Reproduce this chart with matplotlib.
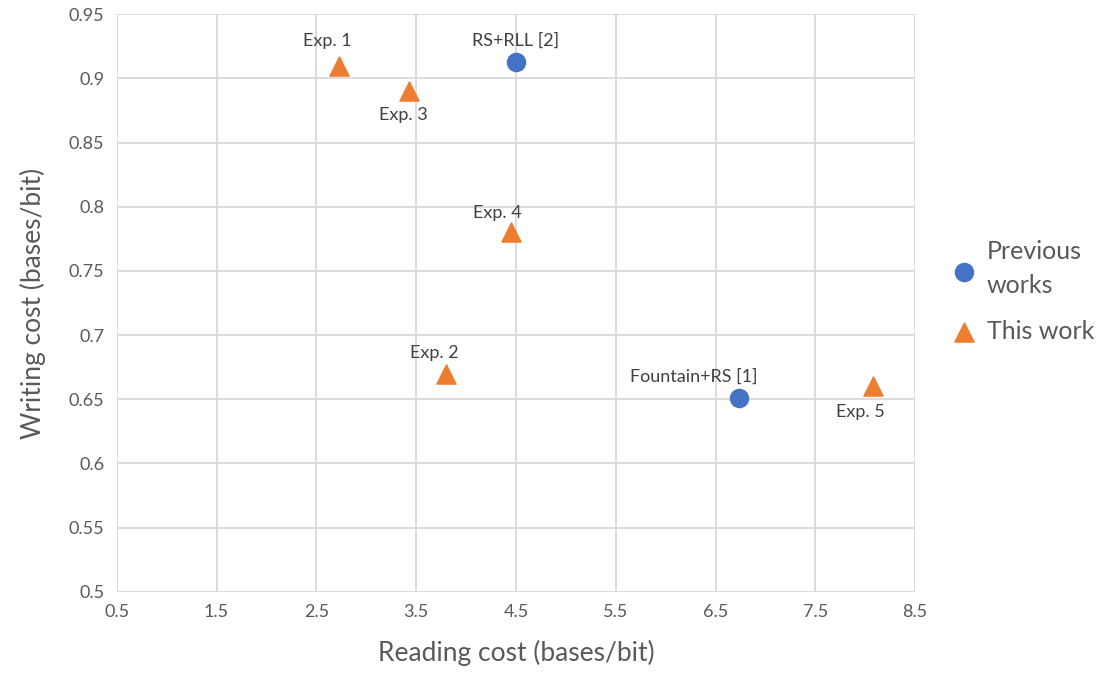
import matplotlib
matplotlib.use("Agg")
import matplotlib.pyplot as plt

plt.rcParams['font.family'] = ['Lato', 'DejaVu Sans']

# Previous works
prev_x = [4.5, 6.73]
prev_y = [0.913, 0.651]
prev_lbl = ["RS+RLL [2]", "Fountain+RS [1]"]
prev_off = [(0, 21), (-45, 21)]

# This work
this_x = [2.73, 3.80, 3.43, 4.45, 8.08]
this_y = [0.91, 0.67, 0.89, 0.78, 0.66]
this_lbl = ["Exp. 1", "Exp. 2", "Exp. 3", "Exp. 4", "Exp. 5"]
this_off = [(-12, 25), (-12, 21), (-6, -24), (-14, 19), (-13, -26)]

xticks = [0.5, 1.5, 2.5, 3.5, 4.5, 5.5, 6.5, 7.5, 8.5]
yticks = [0.5, 0.55, 0.6, 0.65, 0.7, 0.75, 0.8, 0.85, 0.9, 0.95]

blue = "#4472C4"
orange = "#ED7D31"
txt = "#404040"
tick_c = "#595959"

fig = plt.figure(figsize=(11.12, 6.81), dpi=100)
ax = fig.add_axes([0.105, 0.131, 0.718, 0.848])

ax.scatter(prev_x, prev_y, s=170, marker="o", color=blue, label="Previous\nworks", zorder=3)
ax.scatter(this_x, this_y, s=190, marker="^", color=orange, label="This work", zorder=3)

for x, y, l, o in zip(prev_x, prev_y, prev_lbl, prev_off):
    ax.annotate(l, (x, y), xytext=o, textcoords="offset pixels",
                ha="center", va="center", fontsize=13, color=txt)
for x, y, l, o in zip(this_x, this_y, this_lbl, this_off):
    ax.annotate(l, (x, y), xytext=o, textcoords="offset pixels",
                ha="center", va="center", fontsize=13, color=txt)

ax.set_xlim(0.5, 8.5)
ax.set_ylim(0.5, 0.95)
ax.set_xticks(xticks)
ax.set_yticks(yticks)
ax.set_xticklabels([f"{v:g}" for v in xticks])
ax.set_yticklabels([f"{v:g}" for v in yticks])
ax.tick_params(length=0, labelsize=13, colors=tick_c, pad=9)
ax.grid(True, color="#d9d9d9", linewidth=1.3)
ax.set_axisbelow(True)
for s in ax.spines.values():
    s.set_visible(False)

ax.set_xlabel("Reading cost (bases/bit)", fontsize=19, color=tick_c, labelpad=14)
ax.set_ylabel("Writing cost (bases/bit)", fontsize=19, color=tick_c, labelpad=16)

leg = ax.legend(loc="center left", bbox_to_anchor=(1.03, 0.52), frameon=False,
                fontsize=18, labelcolor=tick_c, handlelength=1.2, handletextpad=0.3,
                labelspacing=0.9, borderaxespad=0)
for t in leg.get_texts():
    t.set_linespacing(1.6)

fig.savefig("out.png", dpi=100)
